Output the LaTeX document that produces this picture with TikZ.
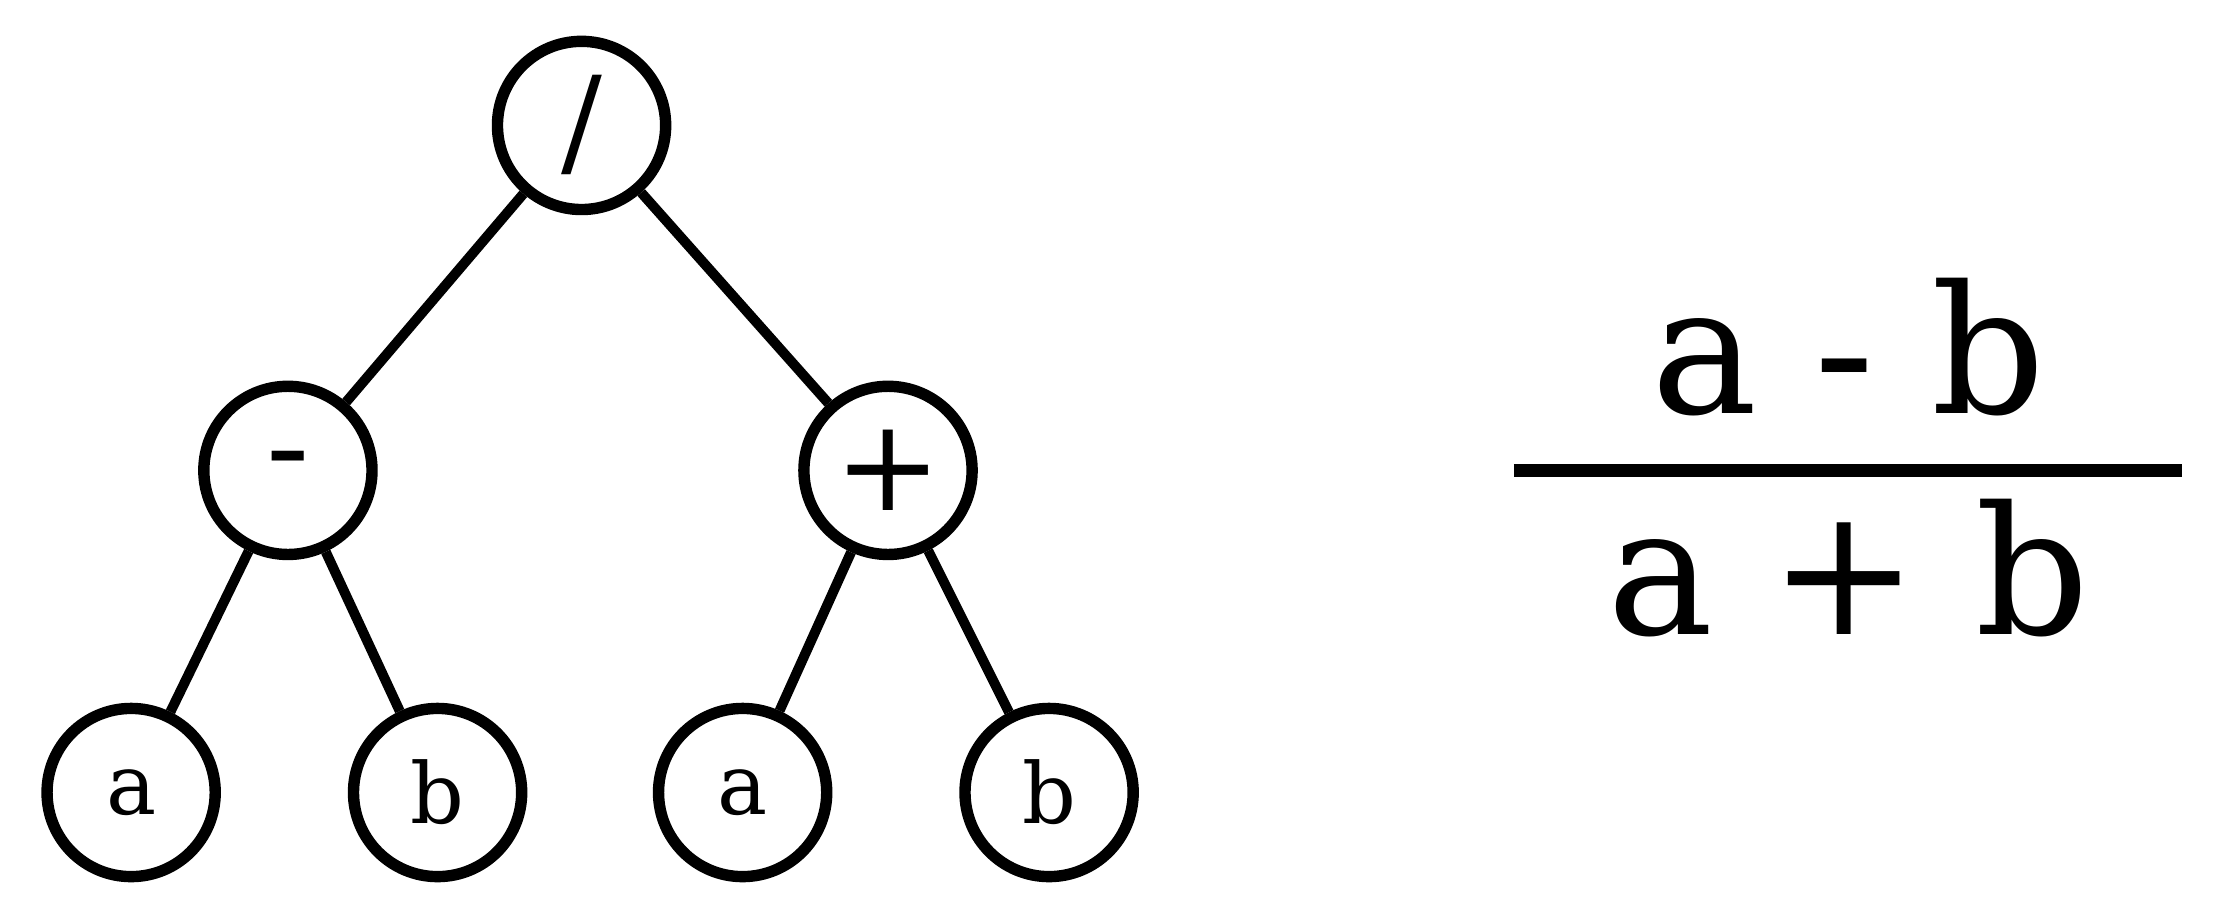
\documentclass[tikz,border=0pt]{standalone}
\usepackage{fontspec}
\setmainfont{DejaVu Serif}
\begin{document}
\begin{tikzpicture}[x=1pt,y=-1pt,
  nd/.style={circle,draw,line width=8pt,minimum size=118pt,inner sep=0pt},
  ed/.style={line width=7pt}]
\useasboundingbox (0,0) rectangle (1568,645);
\node[nd,font=\fontsize{85}{90}\selectfont] (r) at (408,88) {/};
\node[nd,font=\fontsize{90}{95}\selectfont] (m) at (202,330) {-};
\node[nd,font=\fontsize{90}{95}\selectfont] (p) at (623,330) {+};
\node[nd,font=\fontsize{59}{62}\selectfont] (a1) at (92,556) {a};
\node[nd,font=\fontsize{59}{62}\selectfont] (b1) at (307,556) {b};
\node[nd,font=\fontsize{59}{62}\selectfont] (a2) at (521,556) {a};
\node[nd,font=\fontsize{59}{62}\selectfont] (b2) at (736,556) {b};
\draw[ed] (r)--(m); \draw[ed] (r)--(p);
\draw[ed] (m)--(a1); \draw[ed] (m)--(b1);
\draw[ed] (p)--(a2); \draw[ed] (p)--(b2);
\node[font=\fontsize{125}{130}\selectfont,anchor=base] (num) at (1297,290) {a - b};
\node[font=\fontsize{125}{130}\selectfont,anchor=base] (den) at (1297,445) {a + b};
\coordinate (l) at (1062,330); \coordinate (rr) at (1531,330);
\draw[line width=9pt] (l)--(rr);
\end{tikzpicture}
\end{document}
